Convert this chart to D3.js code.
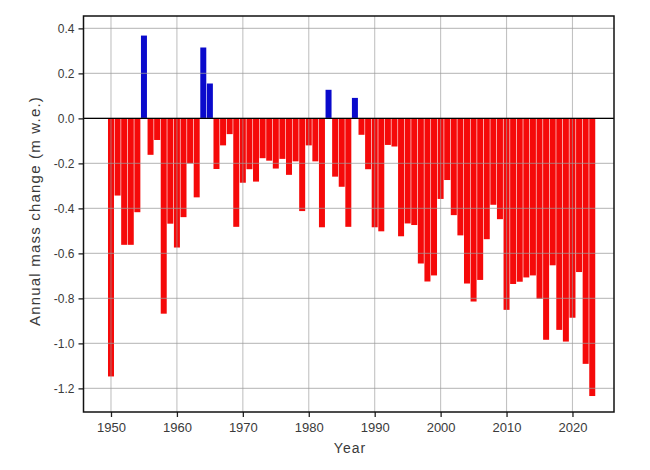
<!DOCTYPE html>
<html>
<head>
<meta charset="utf-8">
<script src="https://cdn.jsdelivr.net/npm/d3@7"></script>
<style>
  body { margin: 0; background: #fff; }
  .label { font-family: "Liberation Sans", Arial, sans-serif; fill: #3a3a3a; }
  .title { font-family: "Liberation Sans", Arial, sans-serif; fill: #3a3a3a; }
</style>
</head>
<body>
<div id="chart"></div>
<script>
// annual mass change, m w.e., one value per year starting 1950
const firstYear = 1950;
const massChange = [
  -1.147, -0.343, -0.562, -0.562, -0.417, 0.368, -0.162, -0.096, -0.868, -0.468,
  -0.574, -0.439, -0.200, -0.351, 0.315, 0.155, -0.225, -0.120, -0.070, -0.482,
  -0.286, -0.226, -0.281, -0.177, -0.188, -0.223, -0.180, -0.251, -0.191, -0.412,
  -0.120, -0.191, -0.484, 0.127, -0.259, -0.304, -0.482, 0.091, -0.073, -0.226,
  -0.484, -0.502, -0.118, -0.125, -0.524, -0.467, -0.474, -0.645, -0.725, -0.698,
  -0.358, -0.274, -0.430, -0.520, -0.734, -0.814, -0.718, -0.537, -0.384, -0.448,
  -0.851, -0.736, -0.726, -0.707, -0.698, -0.802, -0.984, -0.653, -0.940, -0.992,
  -0.886, -0.683, -1.091, -1.234
];
const years = massChange.map((v, i) => firstYear + i);
const xTicks = [1950, 1960, 1970, 1980, 1990, 2000, 2010, 2020];
const yTicks = [0.4, 0.2, 0.0, -0.2, -0.4, -0.6, -0.8, -1.0, -1.2];

const width = 650, height = 470;
const margin = {top: 16, right: 36, bottom: 58, left: 83.5};

const x = d3.scaleLinear()
    .domain([1945.83, 2026.3])
    .range([margin.left, width - margin.right]);

const y = d3.scaleLinear()
    .domain([-1.305, 0.455])
    .range([height - margin.bottom, margin.top]);

const svg = d3.select("#chart")
    .append("svg")
    .attr("width", width)
    .attr("height", height);

const data = years.map((yr, i) => ({year: yr, value: massChange[i]}));
const bw = x(1951) - x(1950);

svg.append("g")
    .selectAll("rect")
    .data(data)
    .join("rect")
    .attr("x", d => x(d.year) - bw / 2 + 0.3)
    .attr("width", bw - 0.6)
    .attr("y", d => y(Math.max(0, d.value)))
    .attr("height", d => Math.abs(y(d.value) - y(0)))
    .attr("fill", d => d.value >= 0 ? "#0a0acc" : "#f50a0a");

// grid on top of the bars
const grid = svg.append("g")
    .attr("stroke", "#9a9a9a")
    .attr("stroke-opacity", 0.6)
    .attr("stroke-width", 1.1);

grid.selectAll("line.v")
    .data(xTicks)
    .join("line")
    .attr("class", "v")
    .attr("x1", d => x(d)).attr("x2", d => x(d))
    .attr("y1", margin.top).attr("y2", height - margin.bottom);

grid.selectAll("line.h")
    .data(yTicks)
    .join("line")
    .attr("class", "h")
    .attr("x1", margin.left).attr("x2", width - margin.right)
    .attr("y1", d => y(d)).attr("y2", d => y(d));

// zero line
svg.append("line")
    .attr("x1", margin.left).attr("x2", width - margin.right)
    .attr("y1", y(0)).attr("y2", y(0))
    .attr("stroke", "#000")
    .attr("stroke-width", 1.3);

const xAxis = g => g
    .attr("transform", `translate(0,${height - margin.bottom})`)
    .call(d3.axisBottom(x).tickValues(xTicks).tickFormat(d3.format("d")).tickSize(5).tickPadding(6))
    .call(g => g.select(".domain").remove())
    .call(g => g.selectAll(".tick line").attr("stroke", "#222").attr("stroke-width", 1.3))
    .call(g => g.selectAll(".tick text").attr("class", "label")
        .attr("font-size", 13).attr("font-family", null));

const yAxis = g => g
    .attr("transform", `translate(${margin.left},0)`)
    .call(d3.axisLeft(y).tickValues(yTicks).tickFormat(d3.format(".1f")).tickSize(5).tickPadding(4))
    .call(g => g.select(".domain").remove())
    .call(g => g.selectAll(".tick line").attr("stroke", "#222").attr("stroke-width", 1.3))
    .call(g => g.selectAll(".tick text").attr("class", "label")
        .attr("font-size", 12).attr("font-family", null)
        .text(d => d3.format(".1f")(d).replace("\u2212", "-")));

svg.append("g").call(xAxis);
svg.append("g").call(yAxis);

// frame
svg.append("rect")
    .attr("x", margin.left)
    .attr("y", margin.top)
    .attr("width", width - margin.right - margin.left)
    .attr("height", height - margin.bottom - margin.top)
    .attr("fill", "none")
    .attr("stroke", "#111")
    .attr("stroke-width", 1.5);

svg.append("text")
    .attr("class", "title")
    .attr("x", 350)
    .attr("y", 453)
    .attr("font-size", 14)
    .attr("letter-spacing", 1)
    .attr("text-anchor", "middle")
    .text("Year");

svg.append("text")
    .attr("class", "title")
    .attr("transform", `translate(40,211) rotate(-90)`)
    .attr("font-size", 15)
    .attr("letter-spacing", 1.2)
    .attr("text-anchor", "middle")
    .text("Annual mass change (m w.e.)");
</script>
</body>
</html>
